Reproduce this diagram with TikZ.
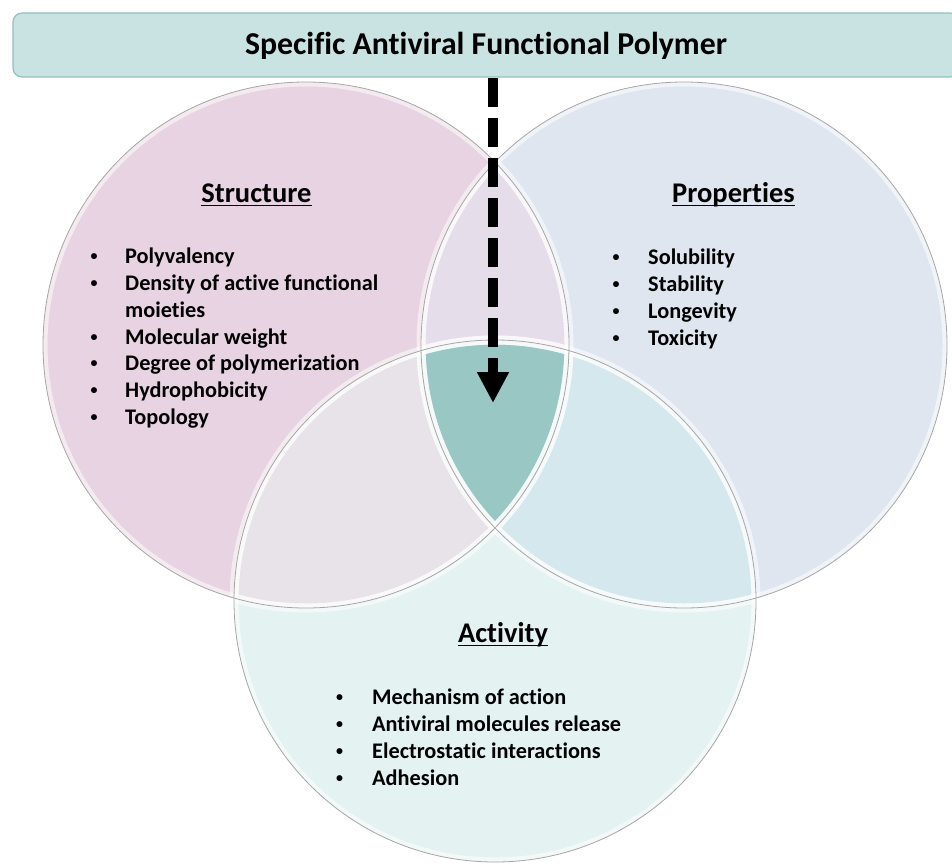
\documentclass[tikz,border=0pt]{standalone}
\usepackage{fontspec}
\setmainfont{Carlito}[Ligatures={NoCommon}]
\usetikzlibrary{arrows.meta}
\definecolor{cpink}{HTML}{E7D3E1}
\definecolor{cblue}{HTML}{DFE6F0}
\definecolor{cmint}{HTML}{E4F3F1}
\definecolor{cab}{HTML}{E6DDEA}
\definecolor{cac}{HTML}{E7E3E9}
\definecolor{cbc}{HTML}{D5E8EE}
\definecolor{cabc}{HTML}{99C7C3}
\definecolor{hdrfill}{HTML}{C8E3E1}
\definecolor{hdrline}{HTML}{92C2BD}
\definecolor{edgegray}{HTML}{A6A6A6}
\begin{document}
\begin{tikzpicture}[x=1pt,y=-1pt,
  heading/.style={font=\bfseries\fontsize{28.5}{34}\selectfont, inner sep=0pt, anchor=base},
  item/.style={font=\bfseries\fontsize{22.3}{27}\selectfont, inner sep=0pt, anchor=base west},
  bul/.style={font=\bfseries\fontsize{14}{16}\selectfont, inner sep=0pt, anchor=base, yshift=3pt},
  uline/.style={line width=1.8pt},
  glow/.style={white, line width=9pt, opacity=0.55},
  rim/.style={edgegray, line width=0.8pt},
]
\useasboundingbox (0,0) rectangle (952,864);
\def\circA{(306,345) circle[radius=263]}
\def\circB{(684,345) circle[radius=263]}
\def\circC{(495,601) circle[radius=261]}
% base fills
\fill[cpink] \circA;
\fill[cblue] \circB;
\fill[cmint] \circC;
% overlaps
\begin{scope}\clip \circA; \fill[cab] \circB; \fill[cac] \circC; \end{scope}
\begin{scope}\clip \circB; \fill[cbc] \circC; \end{scope}
\begin{scope}\clip \circA; \clip \circB; \fill[cabc] \circC; \end{scope}
% bevel highlights
\begin{scope}\clip \circA; \draw[glow] \circB; \draw[glow] \circC; \draw[glow] \circA; \end{scope}
\begin{scope}\clip \circB; \draw[glow] \circA; \draw[glow] \circC; \draw[glow] \circB; \end{scope}
\begin{scope}\clip \circC; \draw[glow] \circA; \draw[glow] \circB; \draw[glow] \circC; \end{scope}
\draw[rim] \circA;
\draw[rim] \circB;
\draw[rim] \circC;
% header
\node[draw=hdrline, fill=hdrfill, line width=1.2pt, rounded corners=9pt,
      minimum width=946pt, minimum height=64pt, inner sep=0pt] (hdr) at (486,45) {};
\node[font=\bfseries\fontsize{31.8}{36}\selectfont, inner sep=0pt, anchor=base] (title) at (486,55) {Specific Antiviral Functional Polymer};
% arrow
\coordinate (arrend) at (493,403);
\draw[line width=10pt, dash pattern=on 29pt off 11pt, -{Triangle[width=30pt,length=31pt]}] (hdr.south -| arrend) -- (arrend);
% headings
\node[heading] (hs) at (256.5,202) {Structure};
\node[heading] (hp) at (733.5,202) {Properties};
\node[heading] (ha) at (503,642) {Activity};
\foreach \h in {hs,hp,ha}{
  \draw[uline] ([yshift=-3.5pt]\h.base west) -- ([yshift=-3.5pt]\h.base east);
}
% structure items
\node[bul] (sb1) at (94,263) {•}; \node[item] (s1) at (125,263) {Polyvalency};
\node[bul] (sb2) at (94,290) {•}; \node[item] (s2) at (125,290) {Density of active functional};
\node[item] (s3) at (125,317) {moieties};
\node[bul] (sb4) at (94,344) {•}; \node[item] (s4) at (125,344) {Molecular weight};
\node[bul] (sb5) at (94,370) {•}; \node[item] (s5) at (125,370) {Degree of polymerization};
\node[bul] (sb6) at (94,397) {•}; \node[item] (s6) at (125,397) {Hydrophobicity};
\node[bul] (sb7) at (94,424) {•}; \node[item] (s7) at (125,424) {Topology};
% properties items
\node[bul] (pb1) at (616,264) {•}; \node[item] (p1) at (648,264) {Solubility};
\node[bul] (pb2) at (616,291) {•}; \node[item] (p2) at (648,291) {Stability};
\node[bul] (pb3) at (616,318) {•}; \node[item] (p3) at (648,318) {Longevity};
\node[bul] (pb4) at (616,345) {•}; \node[item] (p4) at (648,345) {Toxicity};
% activity items
\node[bul] (ab1) at (339.5,704) {•}; \node[item] (a1) at (372,704) {Mechanism of action};
\node[bul] (ab2) at (339.5,731) {•}; \node[item] (a2) at (372,731) {Antiviral molecules release};
\node[bul] (ab3) at (339.5,758) {•}; \node[item] (a3) at (372,758) {Electrostatic interactions};
\node[bul] (ab4) at (339.5,785) {•}; \node[item] (a4) at (372,785) {Adhesion};
\end{tikzpicture}
\end{document}
